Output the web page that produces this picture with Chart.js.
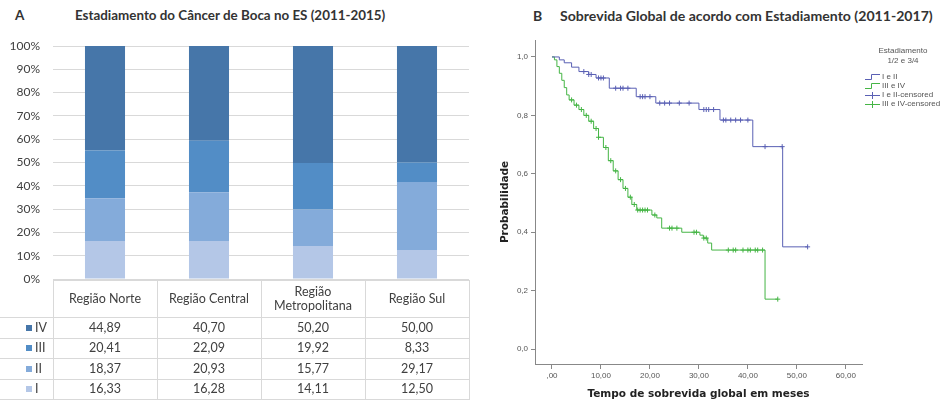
<!DOCTYPE html>
<html>
<head>
<meta charset="utf-8">
<script src="https://cdn.jsdelivr.net/npm/chart.js@4/dist/chart.umd.min.js"></script>
<style>
  body { margin: 0; width: 944px; height: 401px; background: #fff; position: relative; overflow: hidden; font-family: Lato, "Open Sans", sans-serif; color: #404040; }
  .abs { position: absolute; }
  .ttl { font-weight: bold; color: #333; white-space: nowrap; }
  #tableA { position: absolute; left: 0; top: 280px; border-collapse: collapse; table-layout: fixed; font-size: 12.5px; color: #404040; }
  #tableA td { border: 1px solid #d9d9d9; text-align: center; padding: 0; line-height: 14px; }
  #tableA td.lab { text-align: left; padding-left: 26px; border-left: none; white-space: nowrap; }
  #tableA td.lab span { display: inline-block; width: 6px; height: 6px; margin-right: 3px; vertical-align: 1px; }
  #legendB { left: 862px; top: 46px; width: 82px; font-family: "Liberation Sans", Arial, sans-serif; font-size: 8px; color: #555; }
  #legendB .head { text-align: center; line-height: 9.5px; margin-bottom: 8px; }
  #legendB .row { height: 8.9px; line-height: 8.9px; white-space: nowrap; padding-left: 3px; }
  #legendB svg { vertical-align: middle; margin-right: 2px; }
</style>
</head>
<body>

<div class="abs ttl" style="left:15px; top:7px; font-size:13.5px;">A</div>
<div class="abs ttl" style="left:75px; top:7px; font-size:13.4px;">Estadiamento do Câncer de Boca no ES (2011-2015)</div>
<canvas id="chartA" class="abs" style="left:0; top:0;" width="470" height="300"></canvas>
<table id="tableA"></table>

<div class="abs ttl" style="left:533px; top:7px; font-size:14px;">B</div>
<div class="abs ttl" style="left:560px; top:7px; font-size:14.1px;">Sobrevida Global de acordo com Estadiamento (2011-2017)</div>
<canvas id="chartB" class="abs" style="left:480px; top:30px;" width="464" height="371"></canvas>
<div id="legendB" class="abs"></div>

<script>
'use strict';

// ---- panel A data ----
let regions = ['Região Norte', 'Região Central', 'Região Metropolitana', 'Região Sul'];
let stageNames = ['I', 'II', 'III', 'IV'];
let stageI = [16.33, 16.28, 14.11, 12.50];
let stageII = [18.37, 20.93, 15.77, 29.17];
let stageIII = [20.41, 22.09, 19.92, 8.33];
let stageIV = [44.89, 40.70, 50.20, 50.00];
let stageColors = ['#b4c7e7', '#84abda', '#528dc6', '#4676a9'];
let percentTicks = [0, 10, 20, 30, 40, 50, 60, 70, 80, 90, 100];

// ---- panel B data (Kaplan-Meier) ----
let seriesNames = ['I e II', 'III e IV', 'I e II-censored', 'III e IV-censored'];
let timeEarly = [0, 1.5, 2.5, 4, 5.5, 7.5, 9, 11.7, 17.2, 21.2, 30, 34.3, 41, 47.1, 52.2];
let survEarly = [1, 0.99, 0.98, 0.965, 0.95, 0.94, 0.928, 0.893, 0.864, 0.842, 0.82, 0.784, 0.693, 0.35, 0.35];
let censorEarly = [6.5, 7.5, 8, 9.5, 10, 10.5, 13, 14, 14.5, 15.5, 18, 18.5, 19, 20, 22, 23, 24, 26, 28,
  31, 31.5, 32, 33, 35, 35.5, 36.5, 37.5, 38.5, 40, 43.5, 47, 52.2];

let timeLate = [0, 0.5, 1, 1.5, 2, 2.5, 3, 3.5, 4.5, 5.5, 6.5, 7.5, 8.5, 9.5, 10.5, 11.5, 12.5, 13.5, 14.5,
  15.5, 16.3, 17.3, 20.4, 21.4, 22.4, 26.5, 30.2, 30.9, 31.8, 32.6, 43.5, 46.1];
let survLate = [1, 0.99, 0.967, 0.944, 0.92, 0.895, 0.87, 0.853, 0.835, 0.82, 0.8, 0.78, 0.755, 0.725,
  0.69, 0.645, 0.61, 0.58, 0.55, 0.52, 0.495, 0.476, 0.459, 0.449, 0.414, 0.4, 0.39, 0.38, 0.363, 0.339,
  0.171, 0.171];
let censorLate = [4, 5, 6, 7, 8, 9, 9.5, 11, 12, 13, 14, 15, 16, 16.8, 17.5, 18, 18.5, 19, 19.5, 21, 24,
  24.5, 25.5, 29, 29.5, 31, 31.5, 36, 37, 37.5, 39, 40, 40.5, 41.5, 42, 43, 46.1];

let survTicks = [0, 0.2, 0.4, 0.6, 0.8, 1];
let monthTicks = [0, 10, 20, 30, 40, 50, 60];
let colorEarly = '#5a60b4';
let colorLate = '#45b545';

function fmtPt(v, d) {
  return v.toFixed(d).replace('.', ',');
}

// ---------- Panel A: stacked bars ----------
function renderChartA() {
  let stageData = [stageI, stageII, stageIII, stageIV];
  let datasets = [];
  for (let i = 0; i < stageNames.length; i++) {
    datasets.push({
      label: stageNames[i],
      data: stageData[i],
      backgroundColor: stageColors[i],
      borderWidth: 0,
      categoryPercentage: 1,
      barPercentage: 0.385
    });
  }

  new Chart(document.getElementById('chartA'), {
    type: 'bar',
    data: { labels: regions, datasets: datasets },
    options: {
      responsive: false,
      animation: false,
      layout: { padding: { top: 46, bottom: 21, right: 1, left: 0 } },
      plugins: { legend: { display: false }, tooltip: { enabled: false } },
      scales: {
        x: { stacked: true, display: false },
        y: {
          stacked: true,
          min: 0,
          max: 100,
          afterFit: function (s) { s.width = 53; },
          afterBuildTicks: function (s) { s.ticks = percentTicks.map(v => ({ value: v })); },
          border: { display: false },
          grid: { color: '#d9d9d9', drawTicks: false },
          ticks: {
            padding: 13,
            color: '#404040',
            font: { family: 'Lato', size: 12 },
            callback: v => v + '%'
          }
        }
      }
    }
  });

  // data table under the bars
  let table = document.getElementById('tableA');
  let html = '<colgroup><col style="width:53px">';
  for (let i = 0; i < regions.length; i++) html += '<col style="width:104px">';
  html += '</colgroup><tr style="height:37px"><td style="border:none"></td>';
  for (let i = 0; i < regions.length; i++) html += '<td>' + regions[i] + '</td>';
  html += '</tr>';
  for (let s = stageNames.length - 1; s >= 0; s--) {
    html += '<tr style="height:20.5px"><td class="lab"><span style="background:' + stageColors[s] + '"></span>' + stageNames[s] + '</td>';
    for (let i = 0; i < regions.length; i++) html += '<td>' + fmtPt(stageData[s][i], 2) + '</td>';
    html += '</tr>';
  }
  table.innerHTML = html;
}

// ---------- Panel B: survival curves ----------
function survivalAt(times, surv, t) {
  let val = surv[0];
  for (let i = 0; i < times.length; i++) {
    if (times[i] <= t) val = surv[i];
  }
  return val;
}

function renderChartB() {
  let curveEarly = timeEarly.map((t, i) => ({ x: t, y: survEarly[i] }));
  let curveLate = timeLate.map((t, i) => ({ x: t, y: survLate[i] }));
  let marksEarly = censorEarly.map(t => ({ x: t, y: survivalAt(timeEarly, survEarly, t) }));
  let marksLate = censorLate.map(t => ({ x: t, y: survivalAt(timeLate, survLate, t) }));

  let axisFont = { family: 'Liberation Sans', size: 8 };
  let titleFont = { family: 'DejaVu Sans', size: 10.5, weight: 'bold' };

  new Chart(document.getElementById('chartB'), {
    type: 'scatter',
    data: {
      datasets: [
        { label: seriesNames[0], data: curveEarly, showLine: true, stepped: 'before', borderColor: colorEarly, borderWidth: 1, pointRadius: 0 },
        { label: seriesNames[1], data: curveLate, showLine: true, stepped: 'before', borderColor: colorLate, borderWidth: 1, pointRadius: 0 },
        { label: seriesNames[2], data: marksEarly, pointStyle: 'cross', pointRadius: 2.5, borderColor: colorEarly, borderWidth: 1 },
        { label: seriesNames[3], data: marksLate, pointStyle: 'cross', pointRadius: 2.5, borderColor: colorLate, borderWidth: 1 }
      ]
    },
    options: {
      responsive: false,
      animation: false,
      layout: { padding: { top: 10, right: 82, bottom: 0, left: 0 } },
      plugins: { legend: { display: false }, tooltip: { enabled: false } },
      scales: {
        x: {
          type: 'linear',
          min: -3.47,
          max: 63.3,
          afterFit: function (s) { s.height = 37; },
          afterBuildTicks: function (s) { s.ticks = monthTicks.map(v => ({ value: v })); },
          border: { color: '#888' },
          grid: { drawOnChartArea: false, color: '#888', tickLength: 5 },
          ticks: { color: '#555', font: axisFont, padding: 2, callback: v => v === 0 ? ',00' : fmtPt(v, 2) },
          title: { display: true, text: 'Tempo de sobrevida global em meses', color: '#222', font: titleFont, padding: { top: 4, bottom: 0 } }
        },
        y: {
          min: -0.051,
          max: 1.058,
          afterFit: function (s) { s.width = 55; },
          afterBuildTicks: function (s) { s.ticks = survTicks.map(v => ({ value: v })); },
          border: { color: '#888' },
          grid: { drawOnChartArea: false, color: '#888', tickLength: 4 },
          ticks: { color: '#555', font: axisFont, padding: 3, callback: v => fmtPt(v, 1) },
          title: { display: true, text: 'Probabilidade', color: '#222', font: titleFont, padding: { top: 19, bottom: 0 } }
        }
      }
    }
  });

  // legend box (top right)
  let glyphs = [
    c => '<svg width="15" height="8"><polyline points="0,6.5 6.5,6.5 6.5,1.5 15,1.5" fill="none" stroke="' + c + '" stroke-width="1"/></svg>',
    c => '<svg width="15" height="8"><line x1="0" y1="4.5" x2="15" y2="4.5" stroke="' + c + '"/><line x1="7.5" y1="1" x2="7.5" y2="8" stroke="' + c + '"/></svg>'
  ];
  let legendColors = [colorEarly, colorLate, colorEarly, colorLate];
  let html = '<div class="head">Estadiamento<br>1/2 e 3/4</div>';
  for (let i = 0; i < seriesNames.length; i++) {
    html += '<div class="row">' + glyphs[i < 2 ? 0 : 1](legendColors[i]) + seriesNames[i] + '</div>';
  }
  document.getElementById('legendB').innerHTML = html;
}

renderChartA();
renderChartB();
</script>
</body>
</html>
